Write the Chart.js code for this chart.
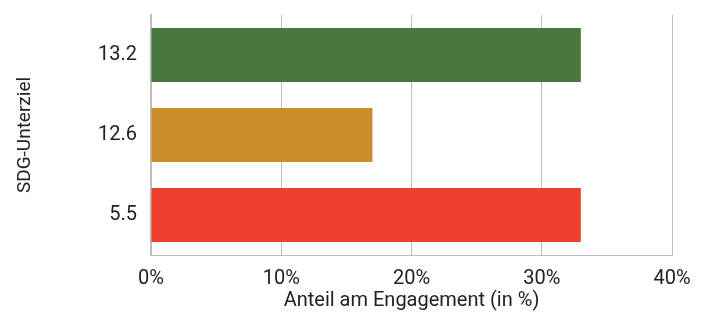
<!DOCTYPE html>
<html><head><meta charset="utf-8">
<script src="https://cdn.jsdelivr.net/npm/chart.js@4"></script>
<style>html,body{margin:0;padding:0;background:#fff}#wrap{width:708px;height:313px}</style>
</head><body><div id="wrap"><canvas id="c" width="708" height="313"></canvas></div>
<script>
const categories = ["13.2", "12.6", "5.5"];
const values = [33, 17, 33];
const barColors = ["#48773c", "#cd8c2a", "#ee402c"];
const xTicks = [0, 10, 20, 30, 40];
const xTitle = "Anteil am Engagement (in %)";
const yTitle = "SDG-Unterziel";

const FONT = "Roboto,'Liberation Sans',sans-serif";
const noPad = s => { s.paddingLeft = 0; s.paddingRight = 0; s.paddingTop = 0; s.paddingBottom = 0; };

new Chart(document.getElementById('c'), {
  type: 'bar',
  data: { labels: categories, datasets: [{ data: values, backgroundColor: barColors, borderWidth: 0, categoryPercentage: 1, barPercentage: 0.675 }] },
  options: {
    indexAxis: 'y', responsive: false, animation: false,
    layout: { padding: { left: 14, right: 36, top: 15, bottom: 0 } },
    plugins: { legend: { display: false }, tooltip: { enabled: false } },
    scales: {
      x: {
        min: 0, max: 40,
        afterBuildTicks: s => { s.ticks = xTicks.map(v => ({ value: v })); },
        ticks: { callback: v => v + '%', color: '#222', font: { family: FONT, size: 20 }, padding: 12, maxRotation: 0 },
        grid: { color: '#bdbdbd', lineWidth: 1, drawTicks: false },
        border: { color: '#bdbdbd', width: 1 },
        title: { display: true, text: xTitle, color: '#222', font: { family: FONT, size: 20 }, padding: { top: 0, bottom: 0 } },
        afterFit: s => { s.height = 58; noPad(s); }
      },
      y: {
        ticks: { color: '#222', font: { family: FONT, size: 20 }, padding: 14 },
        grid: { display: false, drawTicks: false },
        border: { color: '#bdbdbd', width: 2 },
        title: { display: true, text: yTitle, color: '#222', font: { family: FONT, size: 19 }, padding: { top: 0, bottom: 0 } },
        afterFit: s => { s.width = 137; noPad(s); }
      }
    }
  }
});
</script></body></html>
